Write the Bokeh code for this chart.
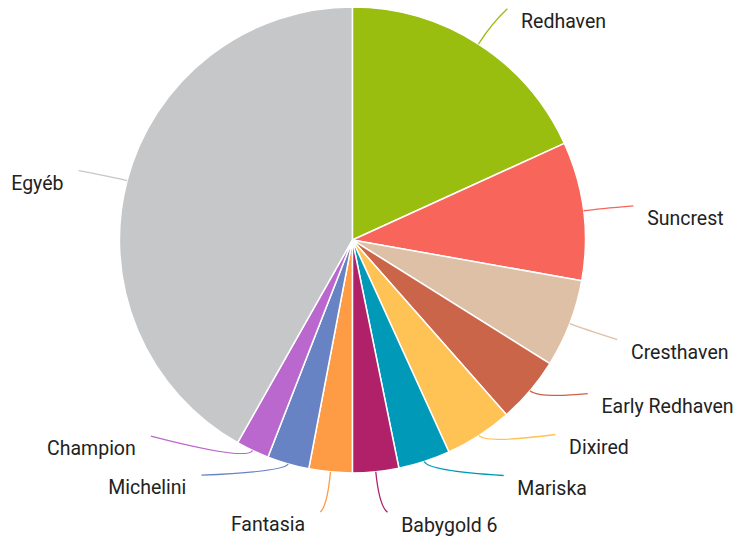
import math
from bokeh.plotting import figure
from bokeh.models import Range1d, ColumnDataSource
from bokeh.core.properties import value
from bokeh.embed import file_html
from bokeh.resources import INLINE

# ---- data ----
varieties = ["Redhaven", "Suncrest", "Cresthaven", "Early Redhaven", "Dixired",
             "Mariska", "Babygold 6", "Fantasia", "Michelini", "Champion", "Egyéb"]
shares = [18.2, 9.6, 6.1, 4.6, 4.7, 3.6, 3.2, 3.0, 2.9, 2.3, 41.8]
colors = ["#99BE0F", "#F8655A", "#DEC0A6", "#CB654A", "#FFC254", "#0199B8",
          "#B0216A", "#FE9C46", "#6783C4", "#BA68CE", "#C6C7C9"]

# ---- layout (in a 756x554 design space, scaled into the canvas) ----
W, H = 740, 538
DW, DH = 756, 554
DH_VIS = H * DW / W
Y_SHIFT = 3
CX, CY = 359.5, DH - 252
R = 238
label_dx = [29.5, 51, 48.5, 59, 78, 81, 12, -10.4, -88.5, -103.8, -49.5]
label_dy = [-36, -5, 16.3, 3, -1, 14.3, 41.5, 41, 11.6, -14.7, -10.3]
elbow_len = [25, 15, 15, 12, 10, 10, 35, 35, 8, 12, 15]
text_gap = 15

total = sum(shares)
starts, ends, mids = [], [], []
cum = 0.0
for s in shares:
    a0 = 90 - (cum + s) / total * 360
    a1 = 90 - cum / total * 360
    starts.append(a0)
    ends.append(a1)
    mids.append((a0 + a1) / 2)
    cum += s

p = figure(width=W, height=H, output_backend="svg", toolbar_location=None,
           x_range=Range1d(0, DW), y_range=Range1d(-Y_SHIFT, DH_VIS - Y_SHIFT),
           x_axis_location=None, y_axis_location=None, min_border=0)
p.grid.visible = False
p.outline_line_color = None
p.background_fill_color = "white"
p.border_fill_color = "white"

src = ColumnDataSource(dict(start=starts, end=ends, color=colors))
p.wedge(x=CX, y=CY, radius=R, start_angle="start", end_angle="end",
        start_angle_units="deg", end_angle_units="deg", direction="anticlock",
        fill_color="color", line_color="white", line_width=1.5, source=src)

x0s, y0s, x1s, y1s, cxs, cys = [], [], [], [], [], []
tx, ty, talign = [], [], []
for i, m in enumerate(mids):
    rad = math.radians(m)
    ax = CX + R * math.cos(rad)
    ay = CY + R * math.sin(rad)
    ex = ax + elbow_len[i] * math.cos(rad)
    ey = ay + elbow_len[i] * math.sin(rad)
    bx = ax + label_dx[i]
    by = ay - label_dy[i]
    x0s.append(ax); y0s.append(ay); x1s.append(bx); y1s.append(by)
    cxs.append(ex); cys.append(ey)
    right = label_dx[i] > 0
    tx.append(bx + (text_gap - 1 if right else -(text_gap + 0.5)))
    ty.append(by - 13)
    talign.append("left" if right else "right")

lsrc = ColumnDataSource(dict(x0=x0s, y0=y0s, x1=x1s, y1=y1s, cx=cxs, cy=cys, color=colors))
p.quadratic(x0="x0", y0="y0", x1="x1", y1="y1", cx="cx", cy="cy",
            line_color="color", line_width=1.3, source=lsrc)

tsrc = ColumnDataSource(dict(x=tx, y=ty, text=varieties, align=talign))
p.text(x="x", y="y", text="text", text_align="align", text_baseline="alphabetic",
       text_font=value("Roboto"), text_font_size="19.5px", text_color="#222222",
       source=tsrc)

open("out.html", "w").write(file_html(p, INLINE))
